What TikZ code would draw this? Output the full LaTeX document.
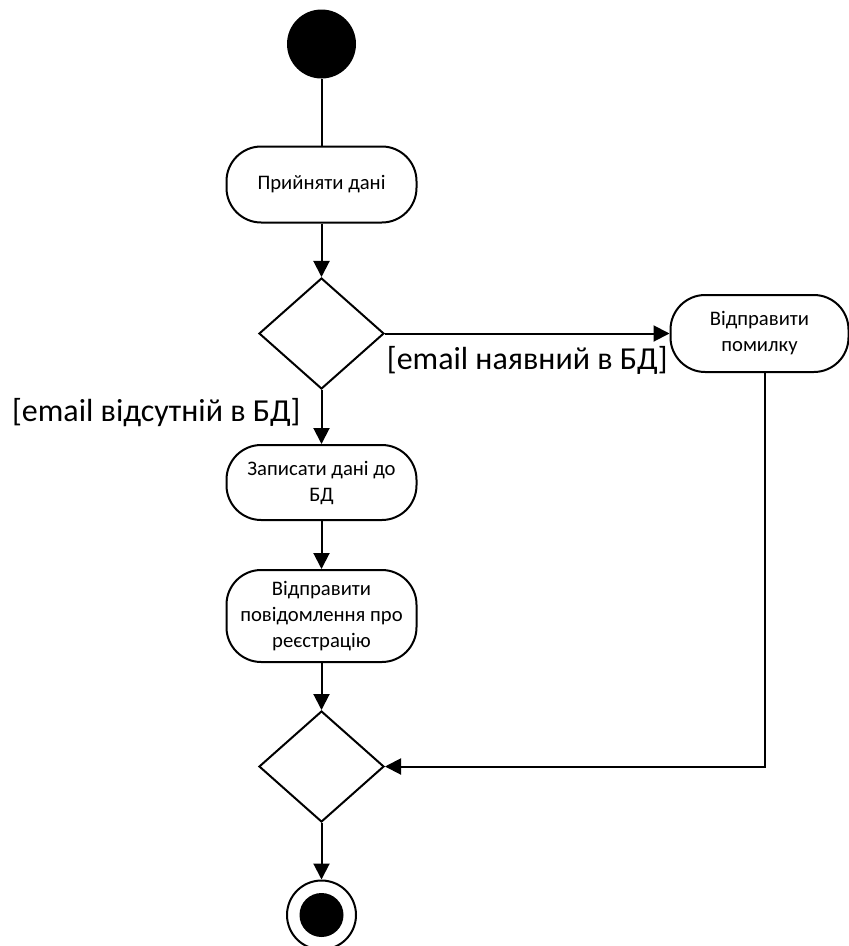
\documentclass[tikz,border=0pt]{standalone}
\usepackage{fontspec}
\setmainfont{Carlito}
\usetikzlibrary{arrows.meta,shapes.geometric}

\tikzset{
    action/.style={rectangle, rounded corners=26pt, draw, line width=1.5pt, minimum width=142.5pt, align=center, inner sep=2pt, font=\fontsize{15.5}{19.5}\selectfont},
    decision/.style={diamond, draw, line width=1.5pt, minimum width=93.75pt, minimum height=83.25pt, inner sep=0pt},
    initial/.style={circle, fill=black, minimum size=51.75pt, inner sep=0pt},
    final/.style={circle, draw, line width=1.5pt, minimum size=51.75pt, inner sep=0pt,
        path picture={\fill (path picture bounding box.center) circle (16.5pt);}},
    guard/.style={inner sep=0pt, font=\fontsize{24}{28}\selectfont},
    flow/.style={line width=1.5pt, -{Triangle[length=12pt, width=12pt]}},
}

\begin{document}
\begin{tikzpicture}[x=0.75pt, y=-0.75pt]
        \useasboundingbox (0,0) rectangle (849,946);

        % Nodes
        \node[initial] at (321.5, 44)  (start)  {};
        \node[action, minimum height=57pt] at (321.5, 184.5)  (take)  {Прийняти дані};
        \node[decision] at (321.5, 333.5)  (dec1)  {};
        \node[action, minimum width=133.5pt, minimum height=57.75pt] at (759.5, 333.5)  (err)  {Відправити\\помилку};
        \node[action, minimum height=56.25pt] at (321.5, 482.5)  (save)  {Записати дані до\\БД};
        \node[action, minimum height=69pt] at (321.5, 616)  (notify)  {Відправити\\повідомлення про\\реєстрацію};
        \node[decision] at (321.5, 766.5)  (dec2)  {};
        \node[final] at (321.5, 915)  (end)  {};

        \coordinate (errout) at ([xshift=3.75pt]err.south);

        % Flows
        \draw[line width=1.5pt]  (start) -- (take);
        \draw[flow]  (take) -- (dec1);
        \draw[flow]  (dec1.east) -- node[guard, midway, below=9pt] {[email наявний в БД]} (err.west);
        \draw[flow]  (dec1.south) -- node[guard, pos=0.42, left=15pt] {[email відсутній в БД]} (save.north);
        \draw[flow]  (save) -- (notify);
        \draw[flow]  (notify) -- (dec2.north);
        \draw[flow]  (errout) |- (dec2.east);
        \draw[flow]  (dec2.south) -- (end);
    \end{tikzpicture}
\end{document}
